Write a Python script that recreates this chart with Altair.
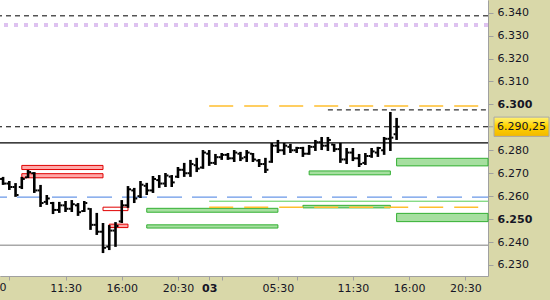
import altair as alt
import pandas as pd

# ---------------- data (30-minute bars, x = bar index in compressed trading time) ----------------
bar_index = list(range(64))
bar_high = [6.2684, 6.2666, 6.2657, 6.2684, 6.2714, 6.2705, 6.2649, 6.2605, 6.2575, 6.2575,
            6.2579, 6.2583, 6.2570, 6.2579, 6.2548, 6.2527, 6.2483, 6.2474, 6.2487, 6.2583,
            6.2644, 6.2636, 6.2666, 6.2658, 6.2688, 6.2692, 6.2701, 6.2692, 6.2727, 6.2745,
            6.2758, 6.2767, 6.2801, 6.2801, 6.2784, 6.2788, 6.2788, 6.2801, 6.2793, 6.2801,
            6.2788, 6.2762, 6.2767, 6.2832, 6.2845, 6.2832, 6.2828, 6.2815, 6.2815, 6.2823,
            6.2845, 6.2858, 6.2858, 6.2828, 6.2832, 6.2810, 6.2810, 6.2784, 6.2788, 6.2810,
            6.2815, 6.2858, 6.2967, 6.2941]
bar_low = [6.2649, 6.2627, 6.2597, 6.2631, 6.2679, 6.2614, 6.2553, 6.2562, 6.2522, 6.2527,
           6.2531, 6.2531, 6.2514, 6.2531, 6.2453, 6.2431, 6.2352, 6.2365, 6.2379, 6.2483,
           6.2549, 6.2570, 6.2592, 6.2605, 6.2614, 6.2636, 6.2640, 6.2640, 6.2679, 6.2684,
           6.2684, 6.2705, 6.2719, 6.2732, 6.2736, 6.2758, 6.2758, 6.2749, 6.2753, 6.2749,
           6.2749, 6.2727, 6.2701, 6.2745, 6.2788, 6.2780, 6.2788, 6.2788, 6.2771, 6.2780,
           6.2797, 6.2801, 6.2797, 6.2793, 6.2745, 6.2740, 6.2753, 6.2727, 6.2736, 6.2767,
           6.2771, 6.2780, 6.2797, 6.2845]
bar_open = [6.2675, 6.2655, 6.2640, 6.2640, 6.2682, 6.2700, 6.2625, 6.2575, 6.2570, 6.2540,
            6.2560, 6.2545, 6.2560, 6.2535, 6.2545, 6.2475, 6.2445, 6.2380, 6.2450, 6.2490,
            6.2560, 6.2625, 6.2600, 6.2645, 6.2625, 6.2670, 6.2655, 6.2685, 6.2685, 6.2715,
            6.2700, 6.2735, 6.2725, 6.2785, 6.2745, 6.2770, 6.2780, 6.2765, 6.2785, 6.2770,
            6.2785, 6.2755, 6.2740, 6.2750, 6.2820, 6.2800, 6.2815, 6.2800, 6.2810, 6.2785,
            6.2815, 6.2835, 6.2820, 6.2825, 6.2805, 6.2760, 6.2790, 6.2765, 6.2745, 6.2775,
            6.2790, 6.2800, 6.2850, 6.2870]
bar_close = [6.2655, 6.2640, 6.2605, 6.2675, 6.2705, 6.2625, 6.2570, 6.2590, 6.2540, 6.2560,
             6.2545, 6.2565, 6.2530, 6.2570, 6.2475, 6.2445, 6.2375, 6.2450, 6.2470, 6.2560,
             6.2630, 6.2590, 6.2650, 6.2625, 6.2675, 6.2655, 6.2690, 6.2660, 6.2715, 6.2700,
             6.2740, 6.2720, 6.2790, 6.2745, 6.2770, 6.2780, 6.2765, 6.2790, 6.2765, 6.2790,
             6.2760, 6.2740, 6.2715, 6.2820, 6.2800, 6.2820, 6.2800, 6.2810, 6.2785, 6.2815,
             6.2835, 6.2820, 6.2845, 6.2805, 6.2760, 6.2790, 6.2765, 6.2740, 6.2775, 6.2795,
             6.2810, 6.2850, 6.2855, 6.29025]

x_tick_values = [1, 10, 19, 28, 33, 35, 44, 47, 56, 65, 74]
x_tick_labels = ["", "11:30", "16:00", "20:30", "03", "", "05:30", "", "11:30", "16:00", "20:30"]
day_tick_value = 33
edge_label_index = [-2]
edge_label_text = ["05:30"]

y_tick_values = [6.23, 6.24, 6.25, 6.26, 6.27, 6.28, 6.30, 6.31, 6.32, 6.33, 6.34]
y_bold_values = [6.25, 6.30]

last_price = [6.29025]
last_price_text = ["6.290,25"]

black_dashed_levels = [6.3386, 6.29025]
purple_levels = [6.3346]
black_solid_levels = [6.2832]
blue_levels = [6.2596]
gray_levels = [6.2386]
black_short_start = [52]
black_short_levels = [6.2976]
orange_start = [33, 33]
orange_levels = [6.2993, 6.2552]
green_line_start = [33]
green_line_levels = [6.2578]

green_x0 = [23, 23, 49, 48, 63, 63]
green_x1 = [44, 44, 62, 62, None, None]
green_top = [6.2547, 6.2475, 6.2710, 6.2560, 6.2765, 6.2525]
green_bot = [6.2530, 6.2461, 6.2693, 6.2549, 6.2732, 6.2489]

red_x0 = [3, 3, 17]
red_x1 = [16, 16, 20]
red_top = [6.2734, 6.2698, 6.2478]
red_bot = [6.2716, 6.2680, 6.2463]
red_hollow_x0 = [16]
red_hollow_x1 = [20]
red_hollow_top = [6.2552]
red_hollow_bot = [6.2537]

# ---------------- scales / axes ----------------
X_MIN, X_MAX = -0.49, 77.63
Y_MIN, Y_MAX = 6.2252, 6.3455
FONT = "DejaVu Sans"
LABEL_COLOR = "#151525"
AXIS_GRAY = "#A0A0A0"

xscale = alt.Scale(domain=[X_MIN, X_MAX], nice=False, zero=False)
yscale = alt.Scale(domain=[Y_MIN, Y_MAX], nice=False, zero=False)

x_expr = ""
for v, t in zip(x_tick_values, x_tick_labels):
    x_expr += f"datum.value == {v} ? '{t}' : "
x_expr += "''"

y_bold_test = " || ".join(f"abs(datum.value - {v}) < 0.0005" for v in y_bold_values)

xaxis = alt.Axis(orient="bottom", values=x_tick_values, labelExpr=x_expr, title=None,
                 grid=False, tickSize=4, tickColor=AXIS_GRAY, domainColor=AXIS_GRAY,
                 labelPadding=2, labelFont=FONT, labelFontSize=11, labelColor=LABEL_COLOR,
                 labelOverlap=False, labelBound=False, labelFlush=False,
                 labelFontWeight={"condition": {"test": f"datum.value == {day_tick_value}", "value": "bold"},
                                  "value": "normal"})
yaxis = alt.Axis(orient="right", values=y_tick_values, labelExpr="format(datum.value, '.3f')",
                 title=None, grid=False, tickSize=5, tickColor=AXIS_GRAY, domainColor=AXIS_GRAY,
                 labelPadding=4, labelFont=FONT, labelFontSize=11, labelColor=LABEL_COLOR,
                 labelOverlap=False, labelBound=False, labelFlush=False,
                 labelFontWeight={"condition": {"test": y_bold_test, "value": "bold"}, "value": "normal"})


def X(f):
    return alt.X(f, type="quantitative", scale=xscale, axis=xaxis)


def Y(f):
    return alt.Y(f, type="quantitative", scale=yscale, axis=yaxis)


# ---------------- frames ----------------
bars = pd.DataFrame({"i": bar_index, "high": bar_high, "low": bar_low,
                     "open": bar_open, "close": bar_close})

green = pd.DataFrame({"x0": green_x0, "x1": [X_MAX if v is None else v for v in green_x1],
                      "top": green_top, "bot": green_bot})
red = pd.DataFrame({"x0": red_x0, "x1": red_x1, "top": red_top, "bot": red_bot})
red_hollow = pd.DataFrame({"x0": red_hollow_x0, "x1": red_hollow_x1,
                           "top": red_hollow_top, "bot": red_hollow_bot})


def full(levels):
    return pd.DataFrame({"v": levels})


def partial(starts, levels):
    return pd.DataFrame({"x0": starts, "x1": [X_MAX] * len(starts), "v": levels})


# ---------------- layers ----------------
green_rects = alt.Chart(green).mark_rect(fill="#A6DFA0", stroke="#33B033", strokeWidth=1).encode(
    x=X("x0"), x2=alt.X2("x1"), y=Y("top"), y2=alt.Y2("bot"))
red_rects = alt.Chart(red).mark_rect(fill="#FFA8A8", stroke="#E00000", strokeWidth=1).encode(
    x=X("x0"), x2=alt.X2("x1"), y=Y("top"), y2=alt.Y2("bot"))
red_hollow_rects = alt.Chart(red_hollow).mark_rect(fill="white", stroke="#E00000", strokeWidth=1).encode(
    x=X("x0"), x2=alt.X2("x1"), y=Y("top"), y2=alt.Y2("bot"))

purple = alt.Chart(full(purple_levels)).mark_rule(color="#DEC2F0", strokeWidth=4, strokeDash=[4, 6]).encode(y=Y("v"))
black_dashed = alt.Chart(full(black_dashed_levels)).mark_rule(color="black", strokeWidth=1, strokeDash=[5, 4]).encode(y=Y("v"))
black_solid = alt.Chart(full(black_solid_levels)).mark_rule(color="black", strokeWidth=1.2).encode(y=Y("v"))
blue = alt.Chart(full(blue_levels)).mark_rule(color="#6A98E8", strokeWidth=1.2, strokeDash=[25, 10], strokeDashOffset=9).encode(y=Y("v"))
gray = alt.Chart(full(gray_levels)).mark_rule(color="#A8A8A8", strokeWidth=1.5).encode(y=Y("v"))
black_short = alt.Chart(partial(black_short_start, black_short_levels)).mark_rule(
    color="black", strokeWidth=1, strokeDash=[5, 4]).encode(x=X("x0"), x2=alt.X2("x1"), y=Y("v"))
orange = alt.Chart(partial(orange_start, orange_levels)).mark_rule(
    color="#FFBE2E", strokeWidth=1.5, strokeDash=[24, 11]).encode(x=X("x0"), x2=alt.X2("x1"), y=Y("v"))
green_line = alt.Chart(partial(green_line_start, green_line_levels)).mark_rule(
    color="#55CC55", strokeWidth=1).encode(x=X("x0"), x2=alt.X2("x1"), y=Y("v"))

hl = alt.Chart(bars).mark_rule(color="black", strokeWidth=2.6).encode(x=X("i"), y=Y("low"), y2=alt.Y2("high"))
op = alt.Chart(bars).mark_rule(color="black", strokeWidth=2, xOffset=-3, x2Offset=-1).encode(
    x=X("i"), x2=alt.X2("i"), y=Y("open"))
cl = alt.Chart(bars).mark_rule(color="black", strokeWidth=2, xOffset=1, x2Offset=3).encode(
    x=X("i"), x2=alt.X2("i"), y=Y("close"))

BOX_HALF = 0.0042
price = pd.DataFrame({"v": last_price, "t": last_price_text,
                      "top": [p + BOX_HALF for p in last_price], "bot": [p - BOX_HALF for p in last_price]})
price_tick = alt.Chart(price).mark_rule(color=AXIS_GRAY, strokeWidth=1).encode(
    x=alt.value(488), x2=alt.value(493), y=Y("v"))
price_box = alt.Chart(price).mark_rect(
    stroke="#A8A8A8", strokeWidth=1,
    fill=alt.LinearGradient(gradient="linear", x1=0, y1=0, x2=0, y2=1,
                            stops=[alt.GradientStop(color="#FFF27A", offset=0),
                                   alt.GradientStop(color="#FFD400", offset=0.45),
                                   alt.GradientStop(color="#F2B800", offset=1)])).encode(
    x=alt.value(494), x2=alt.value(549), y=Y("top"), y2=alt.Y2("bot"))
price_text = alt.Chart(price).mark_text(align="left", baseline="middle", font=FONT, fontSize=11,
                                        color=LABEL_COLOR).encode(x=alt.value(497), y=Y("v"), text="t")

edge = pd.DataFrame({"i": edge_label_index, "t": edge_label_text})
edge_label = alt.Chart(edge).mark_text(align="center", baseline="top", font=FONT, fontSize=11,
                                       color=LABEL_COLOR, dy=6).encode(x=X("i"), y=alt.value(276), text="t")

chart = alt.layer(
    green_rects, red_rects, red_hollow_rects,
    purple, black_dashed, black_solid, blue, gray, black_short, orange, green_line,
    hl, op, cl,
    price_tick, price_box, price_text, edge_label,
).properties(
    width=488, height=276,
    padding={"left": 0, "top": 0, "right": 62, "bottom": 24},
    autosize="none", background="#D9D8A9"
).configure_view(fill="white", stroke=None)

chart.save("out.html", embed_options={"renderer": "svg", "actions": False})
